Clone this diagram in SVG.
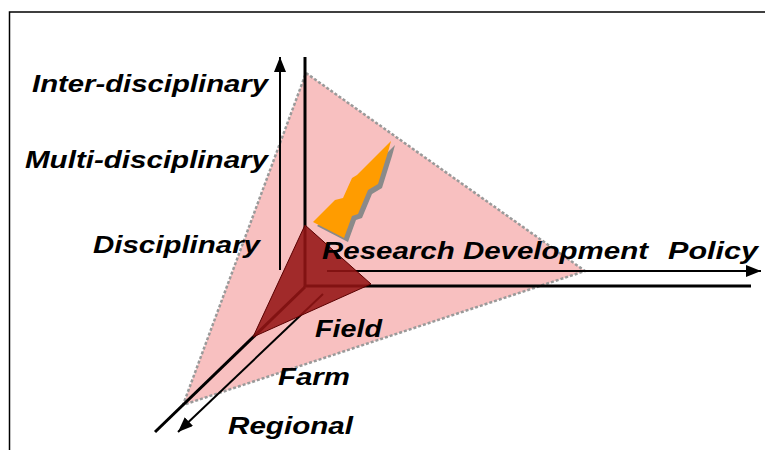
<svg xmlns="http://www.w3.org/2000/svg" width="765" height="450" viewBox="0 0 765 450">
  <style>
    .lbl { font-family: "Liberation Sans", Arial, sans-serif; font-weight: bold; font-style: italic; font-size: 24px; fill: #000; }
    .thin { stroke: #000; stroke-width: 2; fill: none; }
    .thick { stroke: #000; stroke-width: 3; fill: none; }
  </style>
  <defs>
    <marker id="arrow" markerUnits="userSpaceOnUse" markerWidth="16" markerHeight="14" refX="15" refY="6" orient="auto">
      <path d="M0,0 L15,6 L0,12 z" fill="#000"/>
    </marker>
  </defs>

  <rect x="9.5" y="12" width="800" height="500" fill="none" stroke="#000" stroke-width="1.5"/>

  <g id="scope-triangle">
    <polygon points="306,73 585,271 183,405" fill="#f8c0c0" stroke="#9a9a9a" stroke-width="2.5" stroke-dasharray="3,2"/>
  </g>

  <g id="bolt">
    <polygon points="395,145 361,179 356,182 347,202 339,204 317,226 348,242 356,220 362,218 372,194 382,188 392,156" fill="#8a8a8a"/>
    <polygon points="391,141 357,175 352,178 343,198 335,200 313,222 344,238 352,216 358,214 368,190 378,184 388,152" fill="#ff9c00"/>
  </g>

  <g id="connectors">
    <line class="thick" x1="305" y1="57" x2="305" y2="287"/>
    <line class="thick" x1="304" y1="286" x2="751" y2="286"/>
    <line class="thick" x1="305" y1="287" x2="155" y2="432" stroke-width="2.5"/>
    <line class="thin" x1="280" y1="270" x2="280" y2="57" marker-end="url(#arrow)"/>
    <line class="thin" x1="327" y1="271" x2="761" y2="271" marker-end="url(#arrow)"/>
    <line class="thin" x1="323" y1="294" x2="178" y2="432" marker-end="url(#arrow)"/>
  </g>

  <g id="current-scope">
    <polygon points="305,225 371,284 253,337" fill="#941414" fill-opacity="0.88" stroke="#5a0000" stroke-width="1"/>
  </g>

  <g id="label-inter"><text class="lbl" x="32" y="92" textLength="236" lengthAdjust="spacingAndGlyphs">Inter-disciplinary</text></g>
  <g id="label-multi"><text class="lbl" x="25" y="168" textLength="243" lengthAdjust="spacingAndGlyphs">Multi-disciplinary</text></g>
  <g id="label-disc"><text class="lbl" x="93" y="253" textLength="167" lengthAdjust="spacingAndGlyphs">Disciplinary</text></g>
  <g id="label-research"><text class="lbl" x="322" y="259" textLength="326" lengthAdjust="spacingAndGlyphs">Research Development</text></g>
  <g id="label-policy"><text class="lbl" x="668" y="259" textLength="90" lengthAdjust="spacingAndGlyphs">Policy</text></g>
  <g id="label-field"><text class="lbl" x="315" y="337" textLength="67" lengthAdjust="spacingAndGlyphs">Field</text></g>
  <g id="label-farm"><text class="lbl" x="278" y="385" textLength="72" lengthAdjust="spacingAndGlyphs">Farm</text></g>
  <g id="label-regional"><text class="lbl" x="228" y="434" textLength="125" lengthAdjust="spacingAndGlyphs">Regional</text></g>
</svg>
